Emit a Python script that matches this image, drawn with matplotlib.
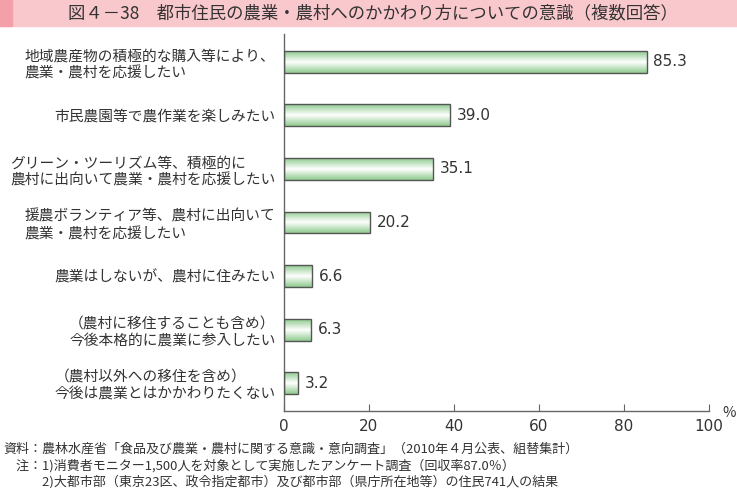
import numpy as np
import matplotlib
matplotlib.use("Agg")
import matplotlib.pyplot as plt
from matplotlib.colors import LinearSegmentedColormap
from matplotlib.patches import Rectangle

plt.rcParams['font.family'] = ['Noto Sans CJK JP', 'DejaVu Sans']

categories = [
    "地域農産物の積極的な購入等により、\n農業・農村を応援したい",
    "市民農園等で農作業を楽しみたい",
    "グリーン・ツーリズム等、積極的に\n農村に出向いて農業・農村を応援したい",
    "援農ボランティア等、農村に出向いて\n農業・農村を応援したい",
    "農業はしないが、農村に住みたい",
    "（農村に移住することも含め）\n今後本格的に農業に参入したい",
    "（農村以外への移住を含め）\n今後は農業とはかかわりたくない",
]
values = [85.3, 39.0, 35.1, 20.2, 6.6, 6.3, 3.2]
xticks = [0, 20, 40, 60, 80, 100]
title = "図４－38　都市住民の農業・農村へのかかわり方についての意識（複数回答）"
notes = [
    "資料：農林水産省「食品及び農業・農村に関する意識・意向調査」（2010年４月公表、組替集計）",
    "　注：1)消費者モニター1,500人を対象として実施したアンケート調査（回収率87.0％）",
    "　　　2)大都市部（東京23区、政令指定都市）及び都市部（県庁所在地等）の住民741人の結果",
]

W, H = 737, 488
fig = plt.figure(figsize=(W / 100, H / 100), dpi=100)

# title band
fig.patches.append(Rectangle((0, 1 - 26 / H), 1, 26 / H, transform=fig.transFigure,
                             color="#f9c8cc", zorder=0))
fig.patches.append(Rectangle((0, 1 - 26 / H), 12 / W, 26 / H, transform=fig.transFigure,
                             color="#f4a0aa", zorder=1))
fig.text(68 / W, 1 - 13 / H, title, ha="left", va="center", fontsize=12.5, color="#333333")

ax = fig.add_axes([284 / W, 1 - 411 / H, (709 - 284) / W, (411 - 34) / H])
n = len(values)
ypos = np.arange(n)
ax.set_xlim(0, 100)
ax.set_ylim(n - 1 + 0.52, -0.52)

bar_h = 0.41
cmap = LinearSegmentedColormap.from_list("g", ["#8fcb8f", "#ffffff", "#8fcb8f"])
grad = np.linspace(0, 1, 64).reshape(-1, 1)
bars = ax.barh(ypos, values, height=bar_h, color="none", edgecolor="#555555", linewidth=1.0, zorder=3)
for b in bars:
    x0, y0, w, h = b.get_x(), b.get_y(), b.get_width(), b.get_height()
    im = ax.imshow(grad, cmap=cmap, aspect="auto", extent=(x0, x0 + w, y0 + h, y0),
                   zorder=2, interpolation="bilinear")
    im.set_clip_path(b)

for y, v in zip(ypos, values):
    ax.text(v + 1.6, y, f"{v:.1f}", va="center", ha="left", fontsize=11, color="#333333",
            family=["DejaVu Sans"])

ax.set_yticks(ypos)
ax.set_yticklabels(categories, fontsize=10.6, color="#333333", multialignment="left",
                   linespacing=1.3)
ax.tick_params(axis="y", length=0, pad=6)
ax.set_xticks(xticks)
ax.set_xticklabels([str(t) for t in xticks], fontsize=11, color="#333333", family=["DejaVu Sans"])
ax.tick_params(axis="x", direction="in", length=5, color="#666666", pad=6)
for s in ["top", "right"]:
    ax.spines[s].set_visible(False)
for s in ["left", "bottom"]:
    ax.spines[s].set_color("#666666")
    ax.spines[s].set_linewidth(1.0)
ax.patch.set_alpha(0)

fig.text(729 / W, 1 - 413 / H, "%", ha="center", va="center", fontsize=10.5, color="#333333")

for i, t in enumerate(notes):
    fig.text(3 / W, 1 - (449 + 16.3 * i) / H, t, ha="left", va="center", fontsize=9.4, color="#333333")

fig.savefig("out.png", dpi=100)
